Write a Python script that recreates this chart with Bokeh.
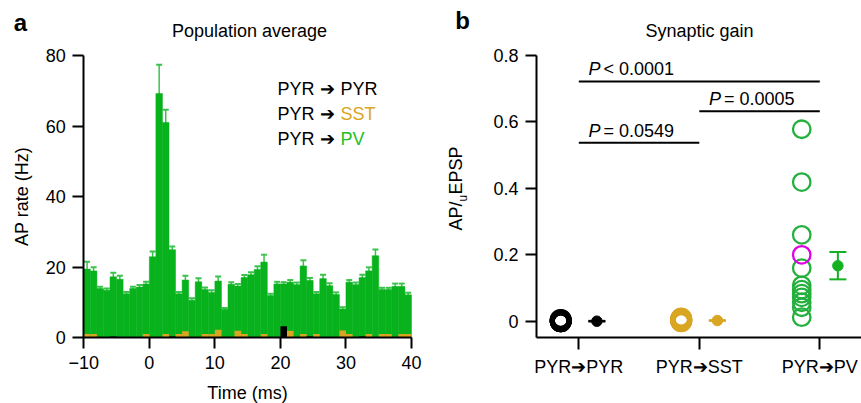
from math import pi
from bokeh.plotting import figure
from bokeh.models import Range1d, FixedTicker, Label, Whisker, TeeHead, ColumnDataSource
from bokeh.layouts import row
from bokeh.embed import file_html
from bokeh.resources import INLINE
from bokeh.core.properties import value

FONT = "Liberation Sans"
GREEN = "#07b21d"
GREEN_ERR = "#3cc24c"
ORANGE = "#daa520"
PV_CIRC = "#24b03c"
PV_MEAN = "#16b023"
PV_TEXT = "#22bf22"
MAGENTA = "#e000e0"

# ---------------- Panel a data (1-ms bins, left edges) ----------------
time_bins = list(range(-10, 40))
pv_rate = [19.4, 18.9, 13.9, 13.4, 17.2, 16.5, 12.4, 13.9, 14.3, 15.2,
           22.9, 69.2, 61.0, 24.9, 12.4, 16.3, 10.6, 15.8, 13.6, 12.8,
           16.0, 8.0, 15.1, 14.6, 17.0, 17.8, 19.3, 21.4, 11.9, 15.2,
           15.2, 15.7, 15.0, 20.3, 16.2, 12.4, 16.7, 14.7, 12.2, 8.1,
           15.7, 15.0, 17.0, 18.9, 23.2, 13.6, 13.6, 14.5, 14.5, 12.1]
pv_sem = [2.1, 1.0, 0.5, 0.5, 1.2, 1.0, 0.5, 0.5, 0.6, 0.6,
          1.5, 8.2, 3.6, 0.9, 0.5, 1.2, 0.5, 1.0, 0.6, 0.6,
          1.3, 0.4, 0.6, 0.6, 0.7, 0.7, 0.9, 2.1, 0.5, 0.6,
          0.5, 0.6, 0.6, 1.6, 0.7, 0.5, 1.1, 0.7, 0.6, 0.5,
          0.6, 0.6, 0.8, 1.0, 1.8, 0.5, 0.5, 0.8, 0.8, 0.6]
sst_rate = [1.0, 1.0, 0, 0, 0, 0, 0, 0, 0, 1.0,
            0, 0, 1.0, 0, 1.0, 1.8, 0, 0, 1.0, 1.0,
            2.2, 0, 0, 1.9, 1.0, 0, 0, 1.0, 0, 0,
            0, 1.9, 0, 1.0, 0, 1.0, 0, 0, 0, 2.0,
            1.0, 0, 0, 1.0, 0, 1.0, 1.0, 0, 1.0, 1.0]
pyr_rate = [0, 0, 0, 0, 0.3, 0, 0, 0, 0, 0,
            0, 0, 0, 0.3, 0, 0, 0, 0, 0, 0,
            0, 0, 0, 0, 0, 0, 0, 0, 0, 0,
            3.2, 0, 0, 0, 0.3, 0, 0, 0, 0, 0,
            0, 0, 0.3, 0, 0, 0, 0, 0, 0, 0]
pyr_sem = [0, 0, 0, 0, 0, 0, 0, 0, 0, 0,
           0, 0, 0, 0, 0, 0, 0, 0, 0, 0,
           0, 0, 0, 0, 0, 0, 0, 0, 0, 0,
           1.2, 0, 0, 0, 0, 0, 0, 0, 0, 0,
           0, 0, 0, 0, 0, 0, 0, 0, 0, 0]
a_xticks = [-10, 0, 10, 20, 30, 40]
a_yticks = [0, 20, 40, 60, 80]
legend_pre = ["PYR \u2794", "PYR \u2794", "PYR \u2794"]
legend_post = ["PYR", "SST", "PV"]

# ---------------- Panel b data ----------------
categories = ["PYR\u2794PYR", "PYR\u2794SST", "PYR\u2794PV"]
pyr_gain = [0.0, 0.0, 0.0, 0.001, 0.002, 0.003, 0.0, 0.004]
sst_gain = [0.0, 0.002, 0.004, 0.006, 0.008, 0.001, 0.003, 0.005]
pv_gain = [0.578, 0.419, 0.26, 0.16, 0.108, 0.095, 0.083, 0.072, 0.057, 0.042, 0.012]
pv_highlight_gain = [0.20]
group_mean = [0.0, 0.002, 0.167]
group_sem = [0.001, 0.001, 0.041]
sig_from = [1, 2, 1]
sig_to = [3, 3, 2]
sig_y = [0.722, 0.632, 0.537]
sig_text = ["< 0.0001", "= 0.0005", "= 0.0549"]
b_yticks = [0, 0.2, 0.4, 0.6, 0.8]

# ---------------- geometry (frame = whole canvas, axes at fixed locations) ----------------
W_A, W_B, H = 430, 431, 403


def x_range_for(d0, d1, s0, s1, total):
    ppu = (s1 - s0) / (d1 - d0)
    start = d0 - s0 / ppu
    return start, start + total / ppu


def y_range_for(d0, d1, s0, s1, total):
    ppu = (s0 - s1) / (d1 - d0)
    start = d0 - (total - s0) / ppu
    return start, start + total / ppu


AX = x_range_for(-10, 40, 83.3, 411.0, W_A)
AY = y_range_for(0, 80, 337.0, 55.0, H)
BX = x_range_for(1, 3, 578.3 - W_A, 819.3 - W_A, W_B)
BY = y_range_for(0, 0.8, 320.7, 55.0, H)
B_PX_Y = (BY[1] - BY[0]) / H      # data units per screen pixel (panel b, vertical)
B_PX_X = (BX[1] - BX[0]) / W_B    # data units per screen pixel (panel b, horizontal)


def lx(sx):
    return AX[0] + sx * (AX[1] - AX[0]) / W_A


def ly(sy):
    return AY[0] + (H - sy) * (AY[1] - AY[0]) / H


def rx(sx):
    return BX[0] + (sx - W_A) * B_PX_X


def ry(sy):
    return BY[0] + (H - sy) * B_PX_Y


def style(p):
    p.outline_line_color = None
    p.grid.visible = False
    p.background_fill_color = "white"
    p.border_fill_color = "white"
    p.min_border = 0
    for ax in (p.xaxis, p.yaxis):
        ax.axis_line_width = 2
        ax.axis_line_color = "black"
        ax.major_tick_line_width = 2
        ax.major_tick_line_color = "black"
        ax.major_tick_in = 0
        ax.major_tick_out = 11
        ax.minor_tick_line_color = None
        ax.major_label_text_font = FONT
        ax.major_label_text_font_size = "18px"
        ax.major_label_text_color = "black"
        ax.major_label_standoff = 7
        ax.axis_label_text_font = FONT
        ax.axis_label_text_font_size = "18px"
        ax.axis_label_text_font_style = "normal"
        ax.axis_label_text_color = "black"


def lab(p, x, y, text, size="18px", color="black", style_="normal", align="center",
        baseline="middle", angle=0):
    p.add_layout(Label(x=x, y=y, text=text, text_font=FONT, text_font_size=size,
                       text_color=color, text_font_style=style_, text_align=align,
                       text_baseline=baseline, angle=angle))


# ---------------- Panel a ----------------
pa = figure(width=W_A, height=H, x_range=Range1d(*AX), y_range=Range1d(*AY),
            output_backend="svg", toolbar_location=None, tools="", min_border=0)
style(pa)
pa.xaxis.fixed_location = 0
pa.xaxis.bounds = (-10, 40)
pa.yaxis.fixed_location = -10
pa.yaxis.bounds = (0, 80)

src_a = ColumnDataSource(dict(
    left=time_bins,
    right=[t + 1 for t in time_bins],
    center=[t + 0.5 for t in time_bins],
    pv=pv_rate,
    pv_lo=[r - s for r, s in zip(pv_rate, pv_sem)],
    pv_hi=[r + s for r, s in zip(pv_rate, pv_sem)],
    sst=sst_rate,
    pyr=pyr_rate,
))
pa.quad(left="left", right="right", bottom=0, top="pv", source=src_a,
        fill_color=GREEN, line_color=GREEN, line_width=0.5)
pa.add_layout(Whisker(source=src_a, base="center", lower="pv_lo", upper="pv_hi",
                      line_color=GREEN_ERR, line_width=1.5,
                      upper_head=TeeHead(size=6, line_color=GREEN_ERR, line_width=2),
                      lower_head=TeeHead(size=6, line_color="white", line_width=1.5)))
pa.quad(left="left", right="right", bottom=0, top="sst", source=src_a,
        fill_color=ORANGE, line_color=None)
pa.quad(left="left", right="right", bottom=0, top="pyr", source=src_a,
        fill_color="black", line_color=None)
idx = [i for i, s in enumerate(pyr_sem) if s > 0]
src_pyr_err = ColumnDataSource(dict(
    center=[time_bins[i] + 0.5 for i in idx],
    lo=[pyr_rate[i] - pyr_sem[i] for i in idx],
    hi=[pyr_rate[i] + pyr_sem[i] for i in idx],
))
pa.add_layout(Whisker(source=src_pyr_err, base="center", lower="lo", upper="hi",
                      line_color="black", line_width=2,
                      upper_head=TeeHead(size=7, line_color="black", line_width=2),
                      lower_head=TeeHead(size=7, line_color="black", line_width=1)))

pa.xaxis.ticker = FixedTicker(ticks=a_xticks)
pa.xaxis.major_label_overrides = {-10: "\u221210"}
pa.yaxis.ticker = FixedTicker(ticks=a_yticks)
pa.yaxis.axis_label = "AP rate (Hz)"
pa.yaxis.axis_label_standoff = 10

lab(pa, lx(249), ly(30), "Population average")
lab(pa, lx(20), ly(22), "a", size="24px", style_="bold")
lab(pa, lx(247), ly(392), "Time (ms)")
legend_colors = ["black", ORANGE, PV_TEXT]
for i, (pre, post, c) in enumerate(zip(legend_pre, legend_post, legend_colors)):
    lab(pa, lx(277), ly(88 + 25 * i), pre, align="left")
    lab(pa, lx(340), ly(88 + 25 * i), post, color=c, align="left")

# ---------------- Panel b ----------------
pb = figure(width=W_B, height=H, x_range=Range1d(*BX), y_range=Range1d(*BY),
            output_backend="svg", toolbar_location=None, tools="", min_border=0)
style(pb)
b_axis_x = rx(536)
b_axis_y = ry(337)
pb.xaxis.fixed_location = b_axis_y
pb.xaxis.bounds = (b_axis_x, BX[1])
pb.yaxis.fixed_location = b_axis_x
pb.yaxis.bounds = (b_axis_y, 0.8)
pb.xaxis.ticker = FixedTicker(ticks=[1, 2, 3])
pb.xaxis.major_label_overrides = {i + 1: c for i, c in enumerate(categories)}
pb.xaxis.major_tick_out = 12
pb.yaxis.ticker = FixedTicker(ticks=b_yticks)
pb.yaxis.major_label_overrides = {0: "0"}

# significance bars
pb.segment(x0=sig_from, y0=sig_y, x1=sig_to, y1=sig_y, line_color="black", line_width=2)
sig_x = [f + 0.08 for f in sig_from]
# labels: text centred ~12 px above each bar
sig_text_y = [y + 12 * B_PX_Y for y in sig_y]
pb.text(x=sig_x, y=sig_text_y, text=["P"] * 3, text_font=value(FONT), text_font_size="18px",
        text_font_style="italic", text_baseline="middle", text_align="left")
pb.text(x=[x + 15 * B_PX_X for x in sig_x], y=sig_text_y, text=sig_text,
        text_font=value(FONT), text_font_size="18px",
        text_baseline="middle", text_align="left")

# individual points
off = 0.15
pb.scatter(x=[1 - off] * len(pyr_gain), y=pyr_gain, size=17, fill_color=None,
           line_color="black", line_width=5)
pb.scatter(x=[2 - off] * len(sst_gain), y=sst_gain, size=17, fill_color=None,
           line_color=ORANGE, line_width=5)
pb.scatter(x=[3 - off] * len(pv_gain), y=pv_gain, size=17.5, fill_color=None,
           line_color=PV_CIRC, line_width=2.3)
pb.scatter(x=[3 - off] * len(pv_highlight_gain), y=pv_highlight_gain, size=17.5,
           fill_color=None, line_color=MAGENTA, line_width=2.3)

# means +/- sem
mean_colors = ["black", ORANGE, PV_MEAN]
for i, (m, s, c) in enumerate(zip(group_mean, group_sem, mean_colors)):
    src = ColumnDataSource(dict(x=[i + 1 + off], m=[m], lo=[m - s], hi=[m + s]))
    pb.add_layout(Whisker(source=src, base="x", lower="lo", upper="hi",
                          line_color=c, line_width=2,
                          upper_head=TeeHead(size=17, line_color=c, line_width=2),
                          lower_head=TeeHead(size=17, line_color=c, line_width=2)))
    pb.scatter(x="x", y="m", source=src, size=10.5, fill_color=c, line_color=c)

lab(pb, rx(699), ry(30), "Synaptic gain")
lab(pb, rx(462), ry(20), "b", size="24px", style_="bold")
lab(pb, rx(455.5), ry(230), "AP/", size="18px", align="left", angle=pi / 2)
lab(pb, rx(462.5), ry(201), "u", size="12px", align="left", angle=pi / 2)
lab(pb, rx(455.5), ry(194), "EPSP", size="18px", align="left", angle=pi / 2)

layout = row(pa, pb)
open("out.html", "w").write(file_html(layout, INLINE))
